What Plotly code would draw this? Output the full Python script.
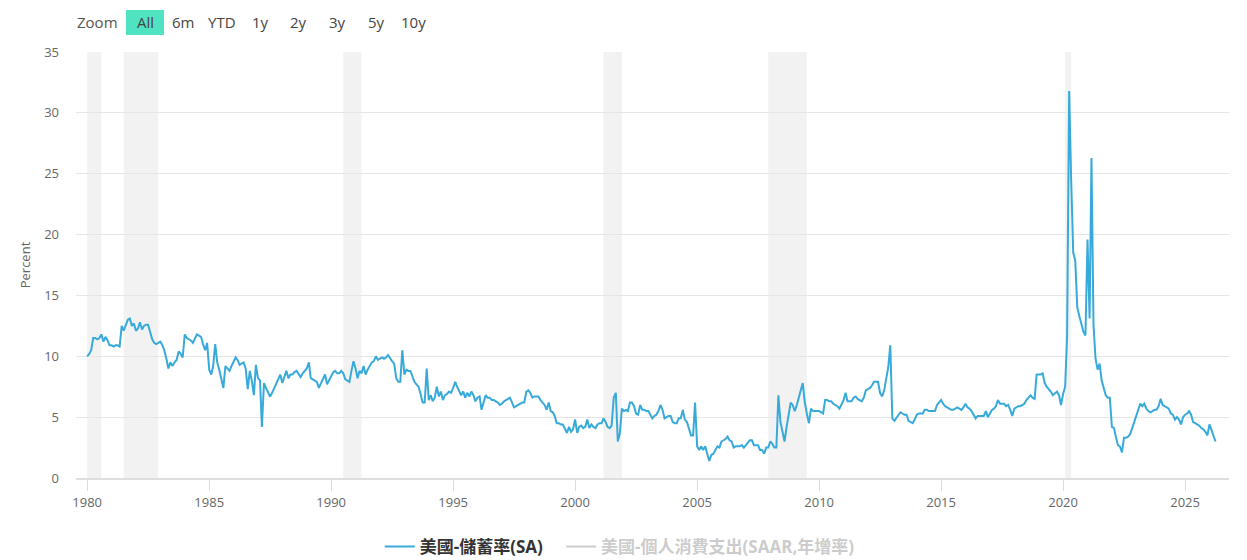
import pandas as pd
import plotly.graph_objects as go

# ---------------- data (monthly, US personal saving rate, %) ----------------
saving_1980s = [
    10.0, 10.2, 10.5, 11.5, 11.5, 11.4, 11.5, 11.8, 11.2, 11.6, 11.3, 10.9,  # 1980
    10.9, 10.8, 10.9, 10.9, 10.8, 12.5, 12.1, 12.5, 13.0, 13.1, 12.5, 12.7,  # 1981
    12.1, 12.3, 12.8, 12.2, 12.5, 12.6, 12.6, 12.0, 11.4, 11.1, 11.0, 11.1,  # 1982
    11.2, 10.9, 10.5, 9.8, 9.0, 9.5, 9.2, 9.5, 9.7, 10.4, 10.2, 9.9,        # 1983
    11.8, 11.5, 11.4, 11.3, 11.1, 11.4, 11.8, 11.7, 11.6, 11.0, 10.5, 11.1,  # 1984
    8.9, 8.5, 9.2, 11.0, 9.5, 8.9, 8.2, 7.4, 9.2, 9.0, 8.8, 9.2,            # 1985
    9.5, 9.9, 9.7, 9.3, 9.4, 9.5, 9.0, 7.3, 8.8, 8.0, 6.8, 9.3,             # 1986
    8.2, 8.0, 4.2, 7.8, 7.4, 7.0, 6.7, 7.0, 7.4, 7.8, 8.2, 8.5,             # 1987
    7.8, 8.3, 8.8, 8.2, 8.5, 8.5, 8.7, 8.8, 8.5, 8.3, 8.6, 8.8,             # 1988
    9.0, 9.5, 8.2, 8.1, 8.0, 7.9, 7.4, 7.8, 8.1, 8.5, 7.7, 8.0,             # 1989
]
saving_1990s = [
    8.4, 8.7, 8.8, 8.6, 8.6, 8.8, 8.6, 8.1, 8.0, 7.9, 8.8, 9.6,             # 1990
    9.0, 8.2, 8.8, 8.6, 9.2, 8.5, 8.9, 9.2, 9.5, 9.6, 10.0, 9.7,            # 1991
    9.8, 9.9, 9.8, 9.9, 10.1, 9.8, 9.6, 9.4, 8.2, 7.9, 7.9, 10.5,           # 1992
    8.5, 8.9, 8.8, 8.8, 8.3, 7.9, 7.7, 7.5, 6.9, 6.2, 6.2, 9.0,             # 1993
    6.4, 6.8, 6.3, 6.6, 7.5, 6.7, 7.1, 6.4, 6.8, 6.9, 7.1, 7.0,             # 1994
    7.4, 7.9, 7.5, 7.1, 6.8, 7.1, 6.6, 7.0, 6.7, 7.1, 6.8, 6.3,             # 1995
    6.6, 6.7, 5.6, 6.2, 6.8, 6.6, 6.6, 6.4, 6.4, 6.3, 6.2, 6.0,             # 1996
    6.1, 6.3, 6.4, 6.5, 6.6, 6.2, 5.8, 5.9, 6.0, 6.1, 6.2, 6.2,             # 1997
    7.1, 7.2, 7.0, 6.6, 6.7, 6.7, 6.7, 6.4, 6.2, 6.0, 5.6, 6.2,             # 1998
    5.5, 5.4, 5.1, 4.5, 4.5, 4.4, 4.4, 4.1, 3.7, 4.2, 3.8, 4.0,             # 1999
]
saving_2000s = [
    4.8, 3.7, 4.2, 4.3, 4.1, 4.2, 4.8, 4.1, 4.4, 4.2, 4.1, 4.4,             # 2000
    4.5, 4.5, 4.9, 4.6, 4.2, 4.1, 4.3, 6.6, 7.0, 3.0, 3.7, 5.7,             # 2001
    5.5, 5.6, 5.5, 6.2, 6.2, 5.9, 5.3, 5.2, 6.0, 5.6, 5.6, 5.5,             # 2002
    5.5, 5.2, 4.9, 5.1, 5.2, 5.5, 6.0, 5.6, 4.9, 5.0, 5.1, 5.1,             # 2003
    4.6, 4.5, 4.5, 4.9, 4.9, 5.6, 4.8, 4.6, 4.0, 3.5, 3.5, 6.2,             # 2004
    2.6, 2.3, 2.6, 2.3, 2.6, 2.0, 1.4, 1.9, 2.0, 2.3, 2.6, 2.5,             # 2005
    3.0, 3.1, 3.2, 3.4, 3.1, 3.0, 2.5, 2.6, 2.6, 2.6, 2.7, 2.5,             # 2006
    2.7, 2.9, 3.1, 3.1, 2.7, 2.7, 2.7, 2.3, 2.3, 2.0, 2.5, 2.5,             # 2007
    3.0, 2.8, 2.5, 2.5, 6.8, 4.6, 3.8, 3.0, 4.2, 5.2, 6.2, 6.0,             # 2008
    5.5, 6.0, 6.7, 7.2, 7.8, 6.2, 5.3, 4.5, 5.7, 5.5, 5.5, 5.5,             # 2009
]
saving_2010s = [
    5.5, 5.4, 5.3, 6.4, 6.4, 6.3, 6.3, 6.1, 6.0, 5.9, 5.7, 6.0,             # 2010
    6.4, 7.0, 6.3, 6.3, 6.3, 6.6, 6.7, 6.5, 6.4, 6.3, 6.6, 7.2,             # 2011
    7.3, 7.4, 7.6, 7.9, 7.9, 7.9, 7.0, 6.7, 7.2, 8.3, 9.1, 10.9,            # 2012
    4.9, 4.7, 4.9, 5.1, 5.4, 5.3, 5.2, 5.2, 4.7, 4.6, 4.5, 4.8,             # 2013
    5.2, 5.3, 5.3, 5.3, 5.6, 5.6, 5.5, 5.5, 5.5, 5.5, 6.0, 6.2,             # 2014
    6.4, 6.1, 5.9, 5.8, 5.7, 5.6, 5.6, 5.7, 5.8, 5.7, 5.6, 5.8,             # 2015
    6.1, 5.8, 5.7, 5.5, 5.2, 4.9, 5.1, 5.1, 5.1, 5.1, 5.5, 5.0,             # 2016
    5.3, 5.6, 5.7, 5.9, 6.4, 6.1, 6.1, 6.1, 5.9, 6.0, 5.6, 5.1,             # 2017
    5.7, 5.8, 5.9, 5.9, 6.0, 6.1, 6.4, 6.6, 6.8, 6.6, 6.5, 8.5,             # 2018
    8.5, 8.5, 8.6, 7.8, 7.5, 7.3, 7.1, 6.8, 7.0, 7.1, 6.8, 6.0,             # 2019
]
saving_2020s = [
    6.9, 7.5, 11.6, 31.8, 24.5, 18.5, 17.9, 14.0, 13.3, 12.6, 12.0, 11.7,   # 2020
    19.6, 13.1, 26.3, 12.5, 9.8, 8.9, 9.4, 8.0, 7.4, 6.8, 6.6, 6.6,         # 2021
    4.2, 4.1, 3.4, 2.7, 2.6, 2.1, 3.3, 3.3, 3.4, 3.6, 4.1, 4.6,             # 2022
    5.2, 5.7, 6.1, 5.9, 6.1, 5.7, 5.5, 5.4, 5.5, 5.6, 5.6, 5.9,             # 2023
    6.5, 6.0, 5.9, 5.8, 5.7, 5.3, 5.2, 4.8, 5.0, 4.8, 4.4, 5.0,             # 2024
    5.2, 5.3, 5.5, 5.2, 4.6, 4.5, 4.4, 4.3, 4.1, 4.0, 3.8, 3.5,             # 2025
    4.4, 3.9, 3.5, 3.0,                                                     # 2026
]
start_month = "1980-01-01"

# NBER recessions (first month, month after last month)
recession_starts = ["1980-01-01", "1981-07-01", "1990-07-01", "2001-03-01", "2007-12-01", "2020-02-01"]
recession_ends = ["1980-08-01", "1982-12-01", "1991-04-01", "2001-12-01", "2009-07-01", "2020-05-01"]

y_ticks = [0, 5, 10, 15, 20, 25, 30, 35]
range_buttons = ["All", "6m", "YTD", "1y", "2y", "3y", "5y", "10y"]

series_name = "美國-儲蓄率(SA)"
hidden_series_name = "美國-個人消費支出(SAAR,年增率)"

# ---------------- figure ----------------
saving = saving_1980s + saving_1990s + saving_2000s + saving_2010s + saving_2020s
dates = pd.date_range(start_month, periods=len(saving), freq="MS")

W, H = 1247, 560
ML, MR, MT, MB = 76, 18, 52, 81.5
PW, PH = W - ML - MR, H - MT - MB

def px_x(px):
    return (px - ML) / PW

def px_y(py):
    return (H - MB - py) / PH

FONT = "Open Sans, Noto Sans CJK TC, sans-serif"

fig = go.Figure()
fig.add_trace(go.Scatter(
    x=dates, y=saving, mode="lines", name=series_name + "\u00a0\u00a0\u00a0",
    line=dict(color="#38aada", width=2),
    hovertemplate="%{x|%Y-%m}<br>" + series_name + ": %{y:.1f}<extra></extra>",
))
# hidden (legend-only) series: no values shown in the picture
fig.add_trace(go.Scatter(
    x=[dates[0]], y=[None], mode="lines", visible="legendonly",
    name='<span style="color:#999999">' + hidden_series_name + "</span>",
    line=dict(color="#999999", width=2),
))

shapes = []
for s, e in zip(recession_starts, recession_ends):
    shapes.append(dict(type="rect", xref="x", yref="paper", x0=s, x1=e, y0=0, y1=1,
                       fillcolor="#f2f2f2", line=dict(width=0), layer="below"))
# selected range button background
shapes.append(dict(type="rect", xref="paper", yref="paper",
                   x0=px_x(126), x1=px_x(164), y0=px_y(35), y1=px_y(10),
                   fillcolor="#50e3c2", line=dict(width=0)))

annotations = [dict(text="Zoom", xref="paper", yref="paper", x=px_x(97), y=px_y(22),
                    xanchor="center", yanchor="middle",
                    showarrow=False, font=dict(size=15, color="#555555", family=FONT))]
btn_centers = [145, 183, 221.5, 260, 298.5, 337, 376, 413.5]
for label, cx in zip(range_buttons, btn_centers):
    annotations.append(dict(text=label, xref="paper", yref="paper", x=px_x(cx), y=px_y(22),
                            xanchor="center", yanchor="middle",
                            showarrow=False, font=dict(size=15, color="#444444", family=FONT)))

fig.update_layout(
    width=W, height=H,
    margin=dict(l=ML, r=MR, t=MT, b=MB, pad=0, autoexpand=False),
    paper_bgcolor="white", plot_bgcolor="white",
    font=dict(family=FONT, color="#666666", size=13),
    shapes=shapes, annotations=annotations,
    hovermode="x",
    showlegend=True,
    legend=dict(orientation="h", xref="container", x=0.497, xanchor="center",
                yref="container", y=(H - 547) / H, yanchor="middle",
                font=dict(size=17, color="#333333", family=FONT, weight="bold"),
                itemwidth=30, bgcolor="rgba(0,0,0,0)"),
    xaxis=dict(
        type="date", range=["1979-07-18", "2026-10-20"], automargin=False,
        tick0="1980-01-01", dtick="M60", tickformat="%Y",
        showgrid=False, zeroline=False,
        showline=True, linecolor="#dedede", linewidth=2,
        ticks="outside", ticklen=11, tickcolor="#dcdcdc", tickwidth=1,
        tickfont=dict(size=13, color="#666666"),
    ),
    yaxis=dict(
        range=[0, 35], tickvals=y_ticks, automargin=False,
        showgrid=True, gridcolor="#e6e6e6", gridwidth=1,
        zeroline=False, showline=False, ticks="", ticklabelstandoff=16,
        tickfont=dict(size=13, color="#666666"),
        title=dict(text="Percent", font=dict(size=13, color="#666666"), standoff=10),
    ),
)

fig.write_html("out.html", config={"displayModeBar": False},
               post_script="document.body.style.margin='0';document.body.style.overflow='hidden';")
